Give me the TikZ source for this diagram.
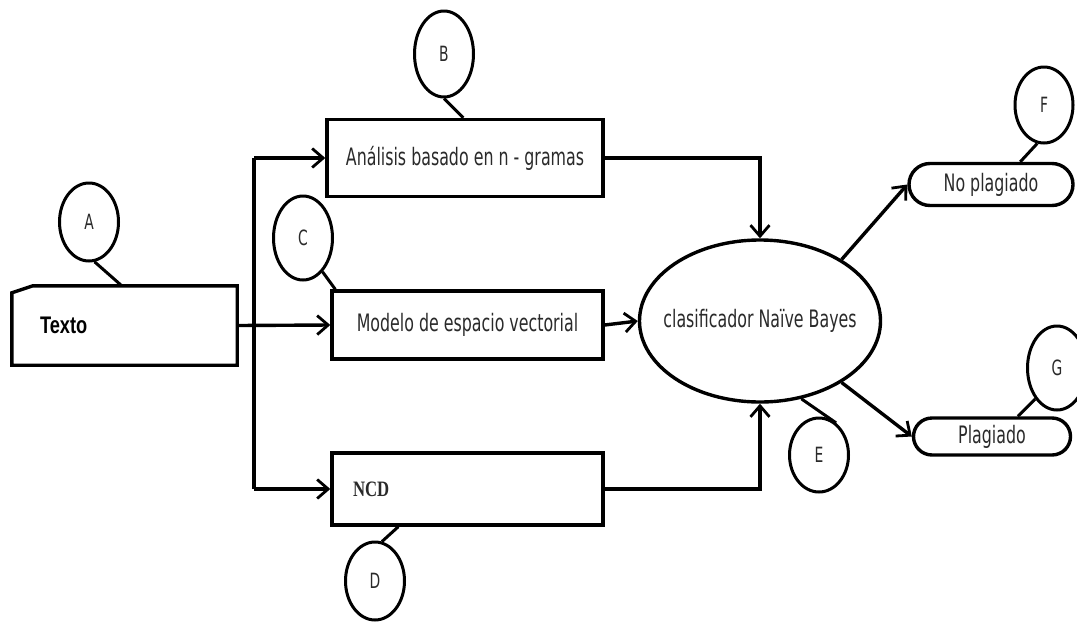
\documentclass[tikz,border=0pt]{standalone}
\usepackage{fontspec}
\usetikzlibrary{arrows.meta,shapes.geometric,calc}
\newfontfamily\lblfont{DejaVu Sans}[FakeStretch=0.66]
\newfontfamily\boldsans{Liberation Sans}[FakeStretch=0.76]
\newfontfamily\boldserif{Liberation Serif}[FakeStretch=0.76]
\definecolor{ink}{HTML}{2A2A2A}
\begin{document}
\begin{tikzpicture}[x=1pt,y=-1pt,
  stroke/.style={line width=3.4pt, draw=black},
  flow/.style={stroke, -{Straight Barb[length=11pt,width=19pt,line width=2.8pt]}},
  box/.style={stroke, rectangle, inner sep=0pt, text=ink,
    font=\lblfont\fontsize{24}{26}\selectfont},
  pill/.style={stroke, rectangle, inner sep=0pt, text=ink,
    font=\lblfont\fontsize{24}{26}\selectfont},
  tag/.style={draw, line width=3pt, ellipse, inner sep=0pt,
    minimum width=59pt, minimum height=78pt, text=ink,
    font=\lblfont\fontsize{21}{23}\selectfont},
  tagline/.style={line width=3pt}]
\useasboundingbox (0,0) rectangle (1077,622);

% input document
\node[rectangle, inner sep=0pt, minimum width=225pt, minimum height=79pt,
  text width=225pt-56pt, inner xsep=28pt, align=left,
  font=\boldsans\bfseries\fontsize{24}{26}\selectfont] (texto) at (124.5,325.5) {Texto};
\draw[stroke] (texto.south west) -- ($(texto.north west)+(0,7)$)
  -- ($(texto.north west)+(21,0)$) -- (texto.north east)
  -- (texto.south east) -- cycle;

% analysis boxes
\node[box, minimum width=276pt, minimum height=77pt] (ngram) at (465,158) {Análisis basado en n - gramas};
\node[box, minimum width=271pt, minimum height=68pt] (vsm) at (467.5,325) {Modelo de espacio vectorial};
\node[box, minimum width=271pt, minimum height=72pt, text width=229pt, inner xsep=21pt,
  align=left, font=\boldserif\bfseries\fontsize{22}{24}\selectfont] (ncd) at (467.5,489) {NCD};

% classifier and outcomes (negative x padding keeps the ellipse at its set size)
\node[stroke, ellipse, inner xsep=-50pt, inner ysep=0pt, minimum width=241pt, minimum height=162pt,
  text=ink, font=\lblfont\fontsize{24}{26}\selectfont] (nb) at (760,321) {clasificador Naïve Bayes};
\node[pill, minimum width=164pt, minimum height=42pt, rounded corners=21pt] (noplag) at (991,184.5) {No plagiado};
\node[pill, minimum width=157pt, minimum height=37pt, rounded corners=18.5pt] (plag) at (992,436.5) {Plagiado};

% split of the input into three branches
\coordinate (split) at (254,325);
\draw[stroke] (split |- ngram.west) -- (split |- ncd.west);
\draw[flow] (texto.east) -- (vsm.west);
\draw[flow] (split |- ngram.west) -- (ngram.west);
\draw[flow] (split |- ncd.west) -- (ncd.west);

% into the classifier
\draw[flow] (ngram.east) -| (nb.north);
\draw[flow] (vsm.east) -- (nb.west);
\draw[flow] (ncd.east) -| (nb.south);

% outcomes
\draw[flow] (nb.37) -- (noplag.west);
\draw[flow] (nb.-37) -- (plag.west);

% letter tags
\node[tag] (tA) at (89,222) {A};
\node[tag, minimum height=86pt] (tB) at (444,54) {B};
\node[tag, minimum height=84pt] (tC) at (303,238) {C};
\node[tag] (tD) at (375,581) {D};
\node[tag, minimum height=74pt] (tE) at (819,455) {E};
\node[tag, minimum width=58pt, minimum height=76pt] (tF) at (1044,105) {F};
\node[tag, minimum height=84pt] (tG) at (1057,368) {G};

\draw[tagline] (tA.-82) -- ($(texto.north west)+(110,0)$);
\draw[tagline] (tB.south) -- ($(ngram.north west)+(138,0)$);
\draw[tagline] (tC.-60) -- ($(vsm.north west)+(5,0)$);
\draw[tagline] (tD.80) -- ($(ncd.south west)+(68,0)$);
\draw[tagline] (nb.-62) -- (tE.62);
\draw[tagline] (tF.-100) -- ($(noplag.north west)+(113,0)$);
\draw[tagline] (tG.-125) -- ($(plag.north west)+(106,0)$);
\end{tikzpicture}
\end{document}
